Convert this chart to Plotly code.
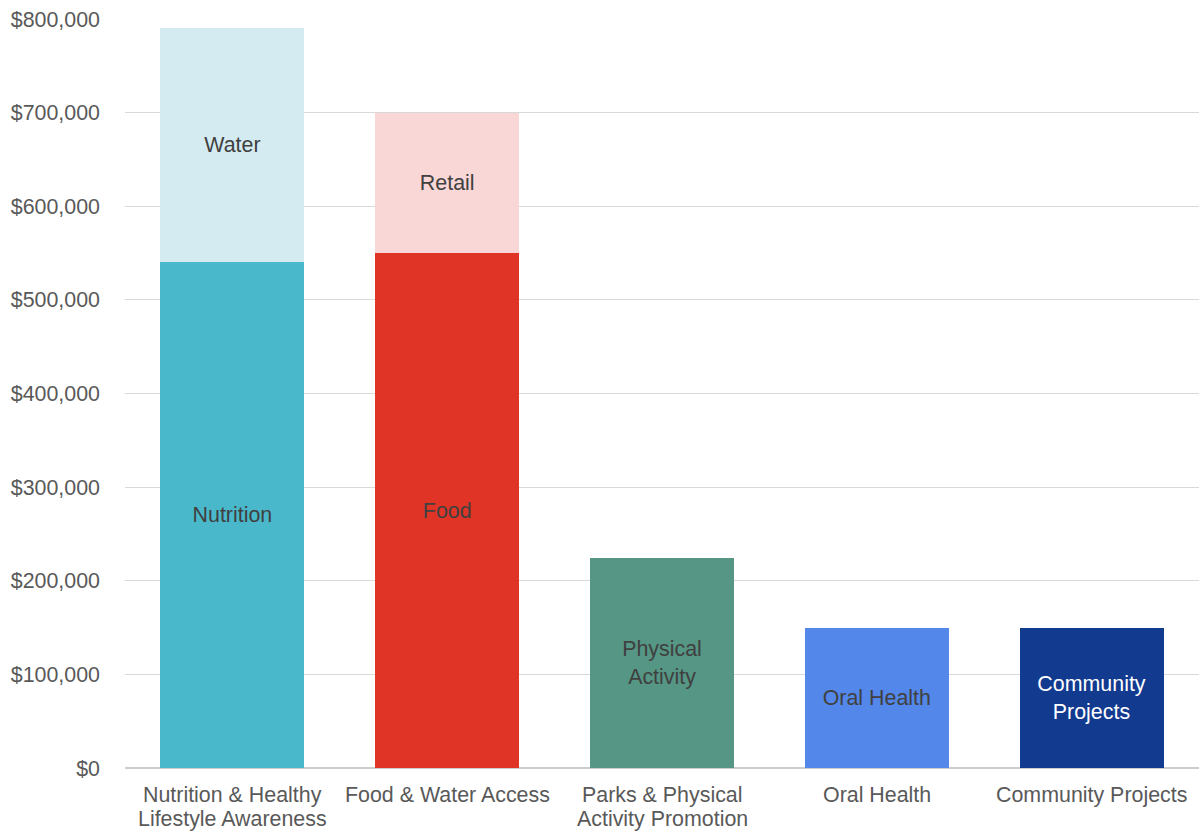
import plotly.graph_objects as go

categories = ["Nutrition & Healthy<br>Lifestyle Awareness", "Food & Water Access",
              "Parks & Physical<br>Activity Promotion", "Oral Health", "Community Projects"]
base_values = [540000, 550000, 224000, 150000, 150000]
base_labels = ["Nutrition", "Food", "Physical<br>Activity", "Oral Health", "Community<br>Projects"]
base_colors = ["#4ab8cb", "#e03526", "#559684", "#5387ea", "#123a8f"]
base_text_colors = ["#404040", "#404040", "#404040", "#404040", "#ffffff"]

top_values = [250000, 150000, None, None, None]
top_labels = ["Water", "Retail", "", "", ""]
top_colors = ["#d4ecf1", "#f8d7d6", "#ffffff", "#ffffff", "#ffffff"]

y_ticks = [0, 100000, 200000, 300000, 400000, 500000, 600000, 700000, 800000]

FONT = "Liberation Sans, Arial"
SIZE = 21.4

fig = go.Figure()
fig.add_trace(go.Bar(
    x=categories, y=base_values, text=base_labels,
    marker=dict(color=base_colors, line=dict(width=0)),
    textposition="inside", insidetextanchor="middle", textangle=0,
    textfont=dict(color=base_text_colors, size=SIZE, family=FONT),
    hoverinfo="skip",
))
fig.add_trace(go.Bar(
    x=categories, y=top_values, text=top_labels,
    marker=dict(color=top_colors, line=dict(width=0)),
    textposition="inside", insidetextanchor="middle", textangle=0,
    textfont=dict(color="#404040", size=SIZE, family=FONT),
    hoverinfo="skip",
))

# Category labels as annotations, one per line, for tighter line spacing
for cat in categories:
    for i, line in enumerate(cat.split("<br>")):
        fig.add_annotation(
            x=cat, y=0, xref="x", yref="y", text=line, showarrow=False,
            yanchor="middle", xanchor="center", yshift=-27 - 24 * i,
            font=dict(size=SIZE, color="#595959", family=FONT),
        )

fig.update_layout(
    barmode="stack",
    bargap=0.33,
    width=1199, height=831,
    margin=dict(l=125, r=0, t=19, b=63),
    paper_bgcolor="white", plot_bgcolor="white",
    showlegend=False,
    font=dict(family=FONT, size=SIZE, color="#595959"),
    uniformtext=dict(minsize=SIZE, mode="show"),
)
fig.update_yaxes(
    range=[0, 800000], tickvals=y_ticks,
    ticktext=["$" + format(v, ",") for v in y_ticks],
    showgrid=True, gridcolor="#d9d9d9", gridwidth=1,
    zeroline=True, zerolinecolor="#cccccc", zerolinewidth=2,
    ticks="", ticklabelstandoff=24, automargin=False,
    tickfont=dict(size=SIZE, color="#595959"),
)
fig.update_xaxes(
    showline=False, ticks="", showticklabels=False, automargin=False,
)

fig.write_html("out.html")
